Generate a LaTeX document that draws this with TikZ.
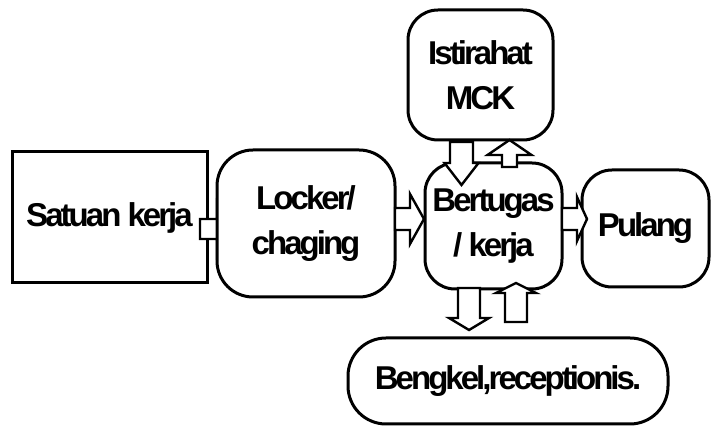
\documentclass[tikz,border=0pt]{standalone}
\usepackage{fontspec}
\setmainfont{Liberation Sans}[LetterSpace=-9]
\begin{document}
\begin{tikzpicture}[x=1pt,y=1pt,
  box/.style={draw=black,line width=3pt,fill=white,inner sep=0pt,align=center,
    font=\fontsize{33}{45}\selectfont\bfseries},
  rbox/.style={box,rounded corners=30pt},
  barrow/.style={draw=black,line width=2.4pt,fill=white,line join=miter}]
\useasboundingbox (0,0) rectangle (711,427);
\newcommand\harrowR[6]{\draw[barrow] ({#1},{#4+#5}) -- ({#2},{#4+#5}) -- ({#2},{#4+#6}) -- ({#3},{#4}) -- ({#2},{#4-#6}) -- ({#2},{#4-#5}) -- ({#1},{#4-#5}) -- cycle;}
\newcommand\varrowV[6]{\draw[barrow] ({#1-#5},{#2}) -- ({#1-#5},{#3}) -- ({#1-#6},{#3}) -- ({#1},{#4}) -- ({#1+#6},{#3}) -- ({#1+#5},{#3}) -- ({#1+#5},{#2}) -- cycle;}
\node[box,minimum width=195pt,minimum height=131pt] (satuan) at (109.5,209.5) {Satuan kerja};
\harrowR{200}{217}{227}{198}{10}{25}
\node[rbox,minimum width=178pt,minimum height=147pt,rounded corners=36pt] (locker) at (306,203.5) {Locker/\\chaging};
\node[rbox,minimum width=137pt,minimum height=126pt] (bertugas) at (493.5,201) {Bertugas\\/ kerja};
\node[rbox,minimum width=145pt,minimum height=130pt] (istirahat) at (480.5,352) {Istirahat\\MCK};
\node[rbox,minimum width=127pt,minimum height=117pt] (pulang) at (645.5,198.5) {Pulang};
\node[rbox,minimum width=320pt,minimum height=86pt,rounded corners=38pt] (bengkel) at (508,46) {Bengkel,receptionis.};
\harrowR{395}{410}{424}{208}{11}{25}
\harrowR{562}{577}{587}{208}{11}{22}
\varrowV{461.5}{285}{264}{242}{11.5}{17}
\varrowV{509.5}{260}{272}{287}{7.5}{22}
\varrowV{469}{139}{109}{97}{11}{20}
\varrowV{516}{105}{134}{144}{11}{20}
\end{tikzpicture}
\end{document}
